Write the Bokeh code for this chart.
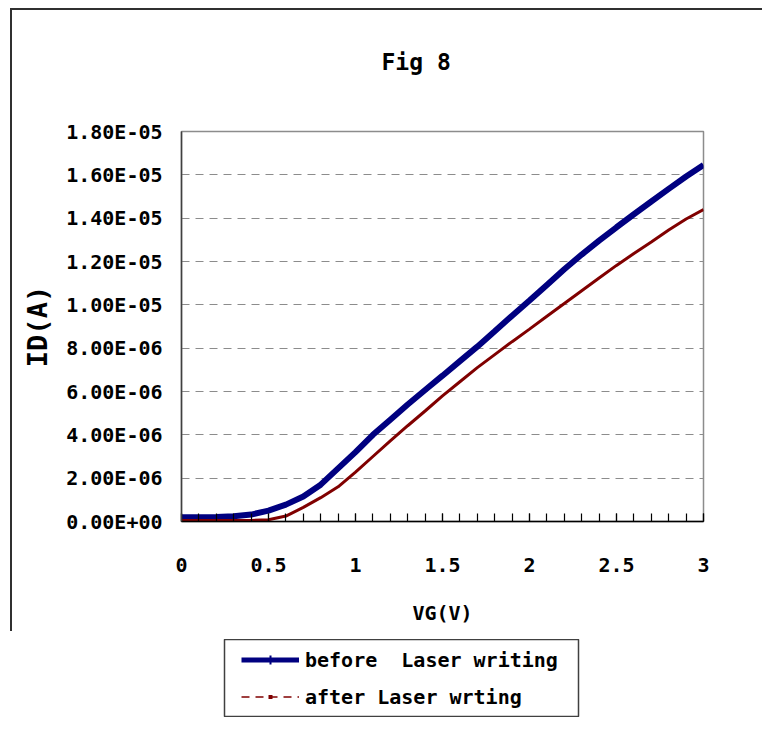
from bokeh.plotting import figure
from bokeh.layouts import column
from bokeh.models import (Range1d, FixedTicker, SingleIntervalTicker, CustomJSTickFormatter,
                          Legend, LegendItem, Title)
from bokeh.embed import file_html
from bokeh.resources import INLINE

# ---- data ----
vg = [0.0, 0.1, 0.2, 0.3, 0.4, 0.5, 0.6, 0.7, 0.8, 0.9, 1.0,
      1.1, 1.2, 1.3, 1.4, 1.5, 1.6, 1.7, 1.8, 1.9, 2.0,
      2.1, 2.2, 2.3, 2.4, 2.5, 2.6, 2.7, 2.8, 2.9, 3.0]
id_before_uA = [0.20, 0.20, 0.21, 0.24, 0.32, 0.50, 0.78, 1.15, 1.70, 2.45, 3.20,
                4.00, 4.70, 5.40, 6.07, 6.73, 7.40, 8.07, 8.78, 9.50, 10.20,
                10.92, 11.64, 12.32, 12.96, 13.58, 14.18, 14.77, 15.35, 15.92, 16.45]
id_after_uA = [0.05, 0.05, 0.05, 0.05, 0.05, 0.08, 0.25, 0.65, 1.10, 1.60, 2.28,
               3.00, 3.72, 4.42, 5.10, 5.80, 6.45, 7.10, 7.70, 8.30, 8.88,
               9.47, 10.06, 10.65, 11.24, 11.82, 12.37, 12.90, 13.45, 13.96, 14.40]
y_ticks = [0.0, 2e-6, 4e-6, 6e-6, 8e-6, 1e-5, 1.2e-5, 1.4e-5, 1.6e-5, 1.8e-5]
series_labels = ["before  Laser writing", "after Laser wrting"]
title_text = "Fig 8"
x_label = "VG(V)"
y_label = "ID(A)"

id_before = [v * 1e-6 for v in id_before_uA]
id_after = [v * 1e-6 for v in id_after_uA]

FONT = "DejaVu Sans Mono"
BLUE = "#000080"
RED = "#800000"

p = figure(frame_width=520, frame_height=388, output_backend="svg", toolbar_location=None,
           x_range=Range1d(0, 3), y_range=Range1d(0, 1.8e-5),
           min_border_left=169, min_border_right=61, min_border_top=121, min_border_bottom=112,
           background_fill_color="white", border_fill_color="white",
           margin=(8, 0, 0, 10),
           styles={"border-left": "2px solid #303030", "border-top": "2px solid #303030"})

p.outline_line_color = "#8c8c8c"
p.outline_line_width = 1.5

# real title (outer panel) and an invisible spacer panel next to the frame
p.title.text = title_text
p.title.align = "left"
p.title.offset = 200
p.title.standoff = 32
p.title.text_font = FONT
p.title.text_font_style = "bold"
p.title.text_font_size = "23px"
p.title.text_color = "black"
p.add_layout(Title(text=" ", text_font_size="10px", standoff=28), "above")

# y axis
ya = p.yaxis[0]
ya.ticker = FixedTicker(ticks=y_ticks)
ya.formatter = CustomJSTickFormatter(code="""
const s = tick.toExponential(2).toUpperCase();
const parts = s.split("E");
const e = parts[1];
const sign = e[0];
let d = e.slice(1);
if (d.length < 2) { d = "0" + d; }
return parts[0] + "E" + sign + d;
""")
ya.major_tick_in = 0
ya.major_tick_out = 0
ya.minor_tick_in = 0
ya.minor_tick_out = 0
ya.axis_line_color = "#404040"
ya.axis_line_width = 1.5
ya.major_label_standoff = 19
ya.major_label_text_font = FONT
ya.major_label_text_font_style = "bold"
ya.major_label_text_font_size = "20px"
ya.major_label_text_color = "black"
ya.axis_label = y_label
ya.axis_label_standoff = 10
ya.axis_label_text_font = FONT
ya.axis_label_text_font_style = "bold"
ya.axis_label_text_font_size = "27px"
ya.axis_label_text_color = "black"

# x axis
xa = p.xaxis[0]
xa.ticker = SingleIntervalTicker(interval=0.5, num_minor_ticks=5)
xa.major_tick_in = 8
xa.major_tick_out = 0
xa.minor_tick_in = 8
xa.minor_tick_out = 0
xa.major_tick_line_color = "black"
xa.minor_tick_line_color = "black"
xa.major_tick_line_width = 1.2
xa.minor_tick_line_width = 1.2
xa.axis_line_color = "black"
xa.axis_line_width = 1.5
xa.major_label_standoff = 36
xa.major_label_text_font = FONT
xa.major_label_text_font_style = "bold"
xa.major_label_text_font_size = "20px"
xa.major_label_text_color = "black"
xa.axis_label = x_label
xa.axis_label_standoff = 26
xa.axis_label_text_font = FONT
xa.axis_label_text_font_style = "bold"
xa.axis_label_text_font_size = "20px"
xa.axis_label_text_color = "black"

p.xgrid.visible = False
p.ygrid.ticker = FixedTicker(ticks=y_ticks)
p.ygrid.grid_line_color = "#8c8c8c"
p.ygrid.grid_line_dash = "8 6"
p.ygrid.grid_line_width = 1.2

# data lines
p.line(vg, id_before, line_color=BLUE, line_width=6)
p.line(vg, id_after, line_color=RED, line_width=3)

# ---- legend box: a small figure below the chart (its side borders follow the chart's) ----
lg = figure(width=584, height=78, output_backend="svg", toolbar_location=None,
            x_range=Range1d(0, 1), y_range=Range1d(0, 1),
            x_axis_type=None, y_axis_type=None,
            min_border_left=169, min_border_right=61, min_border_top=0, min_border_bottom=0,
            background_fill_color="white", border_fill_color="white",
            margin=(8, 0, 0, 55))
lg.outline_line_color = "#404040"
lg.outline_line_width = 1.5
lg.xgrid.visible = False
lg.ygrid.visible = False

nan = float("nan")
lb_line = lg.line(x=[nan], y=[nan], line_color=BLUE, line_width=5)
lb_mark = lg.line(x=[nan], y=[nan], line_color=BLUE, line_width=9, line_dash="0 28 2 100")
la_dash = lg.line(x=[nan], y=[nan], line_color=RED, line_width=1.5, line_dash="8 6")
la_mark = lg.line(x=[nan], y=[nan], line_color=RED, line_width=4, line_dash="0 27 4 100")

legend = Legend(items=[LegendItem(label=series_labels[0], renderers=[lb_line, lb_mark]),
                       LegendItem(label=series_labels[1], renderers=[la_dash, la_mark])],
                location=(17, 2), orientation="vertical",
                glyph_width=58, glyph_height=37, label_height=37,
                spacing=0, padding=0, margin=0, label_standoff=6,
                border_line_alpha=0, background_fill_alpha=0,
                label_text_font=FONT, label_text_font_style="bold", label_text_font_size="20px",
                label_text_color="black")
lg.add_layout(legend)

root = column(p, lg, spacing=0)
open("out.html", "w").write(file_html(root, INLINE))
